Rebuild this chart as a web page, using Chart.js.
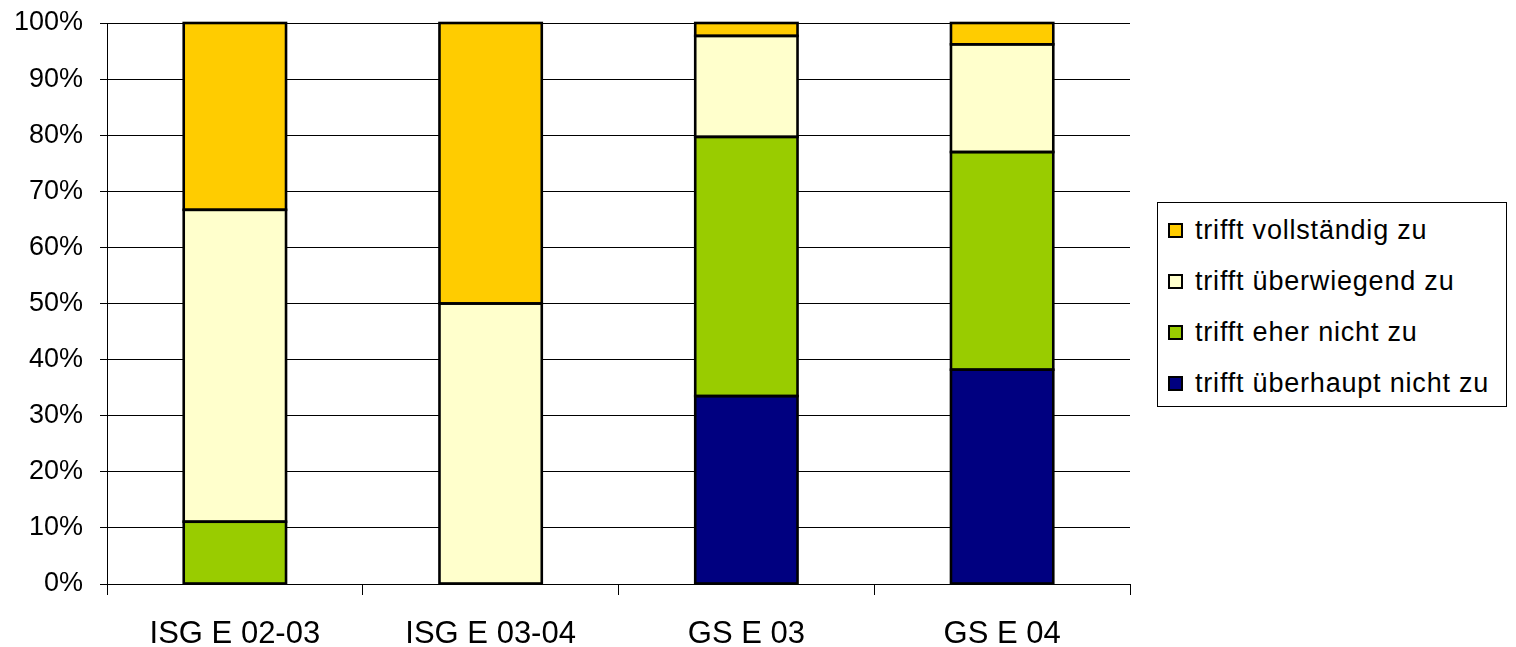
<!DOCTYPE html>
<html lang="de">
<head>
    <meta charset="UTF-8">
    <title>Zustimmung nach Jahrgang</title>
    <script src="https://cdn.jsdelivr.net/npm/chart.js"></script>
    <style>
        body {
            margin: 0;
            background: #fff;
            font-family: "Liberation Sans", Arial, sans-serif;
        }
        #wrap {
            position: relative;
            width: 1516px;
            height: 647px;
        }
        #legend {
            position: absolute;
            left: 1157px;
            top: 202px;
            width: 350px;
            height: 205px;
            border: 1px solid #000;
            background: #fff;
            box-sizing: border-box;
            padding-top: 2px;
        }
        .item {
            height: 51px;
            display: flex;
            align-items: center;
            font-size: 27px;
            letter-spacing: 0.8px;
            color: #000;
            padding-left: 10px;
        }
        .box {
            width: 11px;
            height: 11px;
            border: 2px solid #000;
            margin-right: 12px;
            flex: none;
        }
    </style>
</head>
<body>
<div id="wrap">
    <canvas id="chart" width="1516" height="647"></canvas>
    <div id="legend"></div>
</div>

<script type="text/javascript">
    const categories = ["ISG E 02-03", "ISG E 03-04", "GS E 03", "GS E 04"];
    const seriesLabels = ["trifft überhaupt nicht zu", "trifft eher nicht zu", "trifft überwiegend zu", "trifft vollständig zu"];
    const seriesColors = ["#000080", "#99CC00", "#FFFFCC", "#FFCC00"];
    const ueberhauptNicht = [0, 0, 33.5, 38.2];
    const eherNicht = [11.1, 0, 46.2, 38.8];
    const ueberwiegend = [55.6, 50, 18.0, 19.2];
    const vollstaendig = [33.3, 50, 2.3, 3.8];
    const yTicks = [0, 10, 20, 30, 40, 50, 60, 70, 80, 90, 100];

    const seriesValues = [ueberhauptNicht, eherNicht, ueberwiegend, vollstaendig];
    const font = "'Liberation Sans', Arial, sans-serif";

    const datasets = seriesLabels.map((label, i) => ({
        label: label,
        data: seriesValues[i],
        backgroundColor: seriesColors[i],
        borderWidth: 0,
        inflateAmount: 0,
        categoryPercentage: 1.0,
        barPercentage: 0.4
    }));

    // schwarze Umrandung wie im Excel-Original, mittig auf der Segmentkante
    const outlinePlugin = {
        id: "outline",
        afterDatasetsDraw(chart) {
            const c = chart.ctx;
            c.save();
            c.strokeStyle = "#000";
            c.lineWidth = 2.6;
            chart.data.datasets.forEach((ds, i) => {
                chart.getDatasetMeta(i).data.forEach((bar, j) => {
                    if (!ds.data[j]) return;
                    const p = bar.getProps(["x", "y", "base", "width"], true);
                    c.strokeRect(p.x - p.width / 2, p.y, p.width, p.base - p.y);
                });
            });
            c.restore();
        }
    };

    const ctx = document.getElementById("chart").getContext("2d");
    new Chart(ctx, {
        type: "bar",
        data: { labels: categories, datasets: datasets },
        plugins: [outlinePlugin],
        options: {
            responsive: false,
            animation: false,
            layout: { padding: { top: 23, right: 386, bottom: 0, left: 0 } },
            plugins: {
                legend: { display: false },
                tooltip: { enabled: false }
            },
            scales: {
                x: {
                    stacked: true,
                    grid: {
                        offset: true,
                        drawOnChartArea: false,
                        drawTicks: true,
                        tickLength: 11,
                        color: "#000",
                        lineWidth: 1
                    },
                    border: { display: true, color: "#000", width: 1 },
                    ticks: {
                        color: "#000",
                        font: { family: font, size: 31 },
                        padding: 21,
                        maxRotation: 0
                    },
                    afterFit: function (scale) {
                        scale.height = 63;
                        scale.paddingLeft = 0;
                        scale.paddingRight = 0;
                    }
                },
                y: {
                    stacked: true,
                    min: 0,
                    max: 100,
                    afterBuildTicks: function (scale) {
                        scale.ticks = yTicks.map(v => ({ value: v }));
                    },
                    grid: {
                        color: "#000",
                        lineWidth: 1,
                        tickLength: 7
                    },
                    border: { display: true, color: "#000", width: 1 },
                    ticks: {
                        color: "#000",
                        font: { family: font, size: 27 },
                        padding: 17,
                        callback: v => v + "%"
                    },
                    afterFit: function (scale) {
                        scale.width = 107;
                        scale.paddingTop = 0;
                        scale.paddingBottom = 0;
                    }
                }
            }
        }
    });

    // Legende: oberste Serie zuerst, wie im Original
    const legend = document.getElementById("legend");
    for (let i = seriesLabels.length - 1; i >= 0; i--) {
        const item = document.createElement("div");
        item.className = "item";
        const box = document.createElement("span");
        box.className = "box";
        box.style.background = seriesColors[i];
        item.appendChild(box);
        item.appendChild(document.createTextNode(seriesLabels[i]));
        legend.appendChild(item);
    }
</script>
</body>
</html>
